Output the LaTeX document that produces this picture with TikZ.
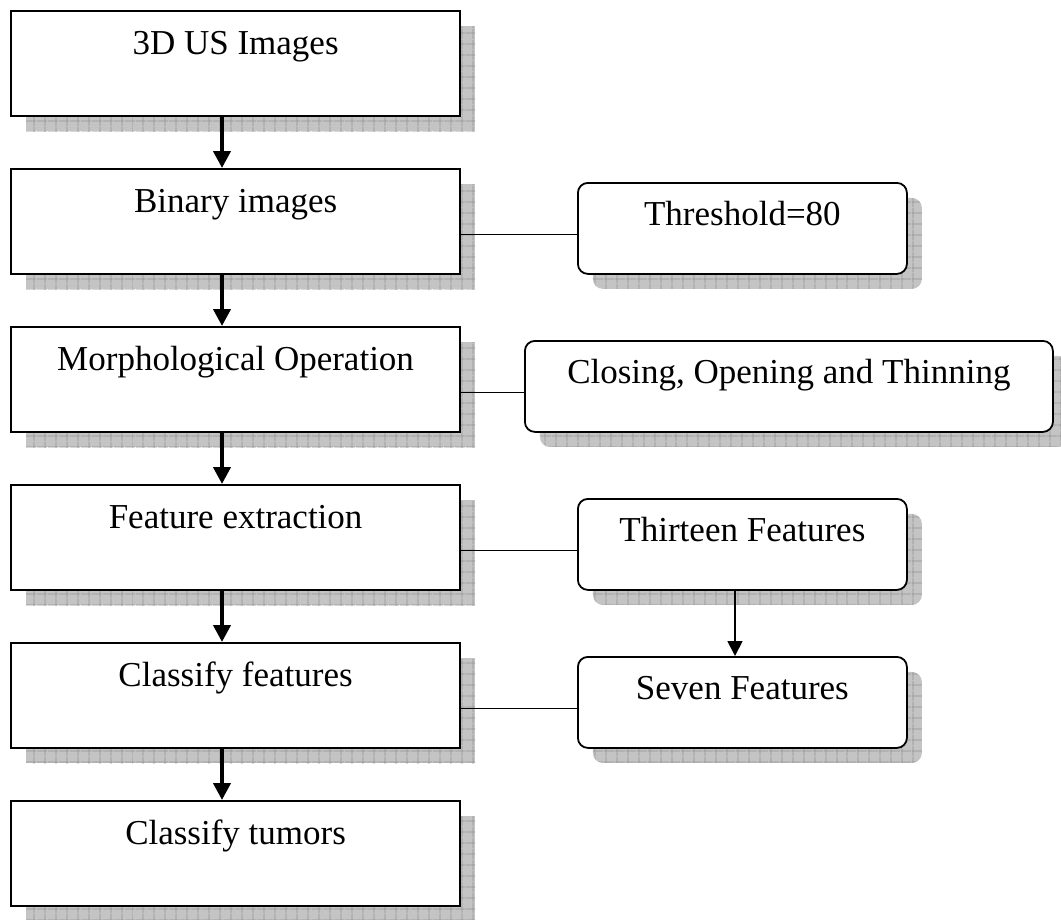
\documentclass[tikz,border=0pt]{standalone}
\usepackage{fontspec}
\setmainfont{Liberation Serif}
\usetikzlibrary{shadows,patterns.meta,arrows.meta}
\definecolor{shadowgray}{RGB}{196,196,196}
\definecolor{gridgray}{RGB}{145,145,145}
\tikzset{
  shad/.style={
    general shadow={fill=shadowgray, shadow xshift=15pt, shadow yshift=-15pt},
    general shadow={pattern={Lines[distance=10.5pt,angle=0,line width=0.8pt]}, pattern color=gridgray, shadow xshift=15pt, shadow yshift=-15pt},
    general shadow={pattern={Lines[distance=10.5pt,angle=90,line width=0.8pt]}, pattern color=gridgray, shadow xshift=15pt, shadow yshift=-15pt}},
  txt/.style={font=\fontsize{35}{40}\selectfont},
  stepbox/.style={shad, txt, draw, fill=white, line width=2.2pt, anchor=north west,
    minimum width=449pt, inner sep=0pt, text height=43pt, text depth=62pt},
  sidebox/.style={shad, txt, draw, fill=white, line width=1.8pt, rounded corners=10pt, anchor=north west,
    minimum width=329pt, inner sep=0pt, text height=43pt, text depth=48pt},
  bigarrow/.style={line width=4pt, -{Triangle[length=17pt,width=17pt]}},
  smallarrow/.style={line width=1.8pt, -{Triangle[length=15pt,width=15pt]}},
  link/.style={line width=1.8pt},
}
\begin{document}
\begin{tikzpicture}[x=1pt,y=-1pt]
\useasboundingbox (0,0) rectangle (1061,919);
\node[stepbox] (b1) at (10,10) {3D US Images};
\node[stepbox] (b2) at (10,168) {Binary images};
\node[stepbox] (b3) at (10,326) {Morphological Operation};
\node[stepbox] (b4) at (10,484) {Feature extraction};
\node[stepbox] (b5) at (10,642) {Classify features};
\node[stepbox] (b6) at (10,800) {Classify tumors};

\node[sidebox] (r1) at (577,182) {Threshold=80};
\node[sidebox, minimum width=528pt] (r2) at (524,340) {Closing, Opening and Thinning};
\node[sidebox] (r3) at (577,498) {Thirteen Features};
\node[sidebox] (r4) at (577,656) {Seven Features};

\coordinate (ax) at (222,0);
\coordinate (sx) at (735,0);
\draw[bigarrow] (b1.south -| ax) -- (b2.north -| ax);
\draw[bigarrow] (b2.south -| ax) -- (b3.north -| ax);
\draw[bigarrow] (b3.south -| ax) -- (b4.north -| ax);
\draw[bigarrow] (b4.south -| ax) -- (b5.north -| ax);
\draw[bigarrow] (b5.south -| ax) -- (b6.north -| ax);

\coordinate (l1) at ([yshift=-6pt]r1.west);
\coordinate (l2) at ([yshift=-6pt]r2.west);
\coordinate (l3) at ([yshift=-6pt]r3.west);
\coordinate (l4) at ([yshift=-6pt]r4.west);
\draw[link] (b2.east |- l1) -- (l1);
\draw[link] (b3.east |- l2) -- (l2);
\draw[link] (b4.east |- l3) -- (l3);
\draw[link] (b5.east |- l4) -- (l4);
\draw[smallarrow] (r3.south -| sx) -- (r4.north -| sx);
\end{tikzpicture}
\end{document}
